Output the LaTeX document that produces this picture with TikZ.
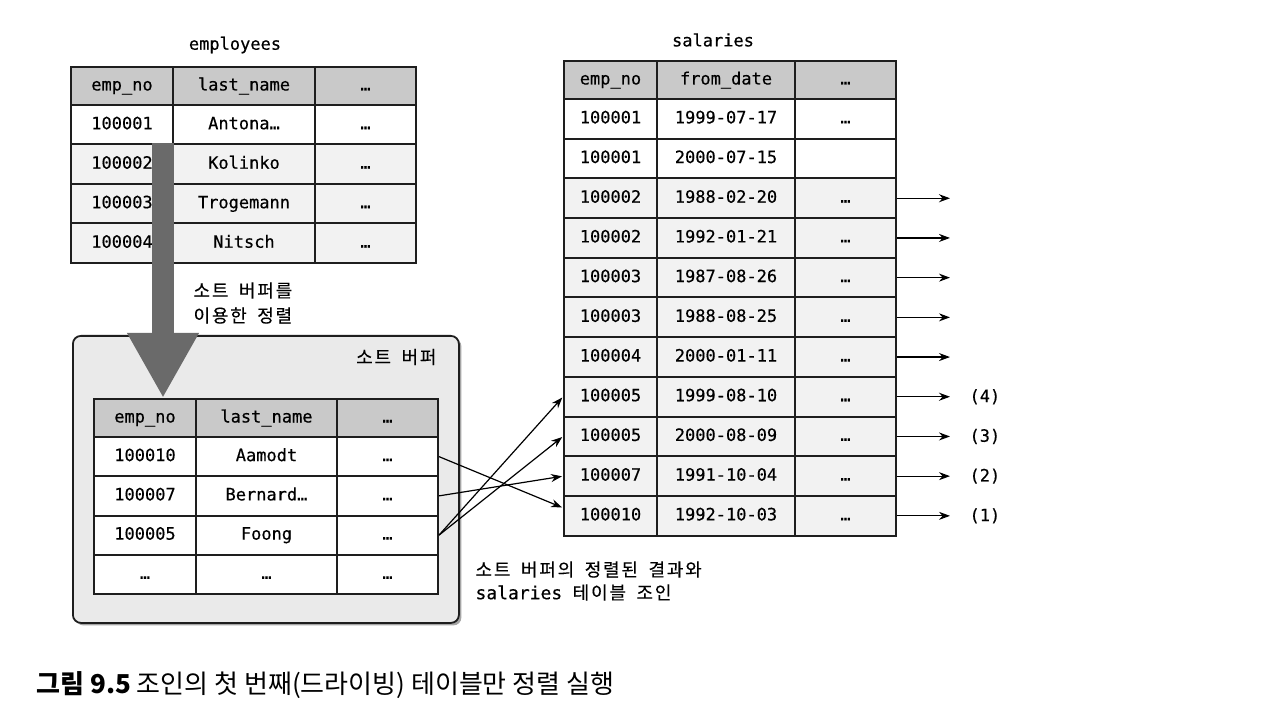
\documentclass[tikz,border=0pt]{standalone}
\usepackage{fontspec}
\setmonofont{DejaVu Sans Mono}[FakeBold=0.4]
\newfontfamily\krfont{Noto Sans CJK KR}[LetterSpace=10, WordSpace=1.8, FakeBold=0.3]
\newfontfamily\capfont{Noto Sans CJK KR}
\usepackage{xcolor}
\definecolor{gridline}{HTML}{1E1E1E}
\definecolor{headbg}{HTML}{C9C9C9}
\definecolor{rowbg}{HTML}{F2F2F2}
\definecolor{bufbg}{HTML}{EAEAEA}
\definecolor{arrowgray}{HTML}{6A6A6A}
\usetikzlibrary{arrows.meta, positioning, calc, shadows}

\begin{document}
\begin{tikzpicture}[
        x=1pt, y=-1pt,
        cell/.style={
            rectangle,
            draw=gridline,
            line width=2pt,
            anchor=north west,
            inner sep=0pt,
            minimum height=39.5pt,
            text height=12.5pt,
            text depth=3.5pt,
            font=\ttfamily\fontsize{17}{17}\selectfont
        },
        headcell/.style={
            cell,
            fill=headbg,
            minimum height=38pt
        },
        tabtitle/.style={
            font=\ttfamily\fontsize{17}{17}\selectfont
        },
        krlabel/.style={
            font=\krfont\fontsize{18}{25}\selectfont,
            align=left
        },
        bufbox/.style={
            rectangle,
            rounded corners=8pt,
            draw=gridline,
            line width=1.8pt,
            fill=bufbg,
            anchor=north west,
            drop shadow={shadow xshift=2.5pt, shadow yshift=-2.5pt, fill=black!70}
        },
        sortarrow/.style={
            draw=arrowgray,
            line width=22pt,
            -{Triangle[width=67pt, length=65pt]}
        },
        joinarrow/.style={
            -{Stealth[length=11pt, width=8pt]},
            line width=1.2pt,
            shorten >=1pt
        },
        outarrow/.style={
            -{Stealth[length=11pt, width=8pt]},
            line width=1.2pt
        }
    ]

    \useasboundingbox[fill=white] (0,0) rectangle (1280,727);

    % employees table (top left)
    \node[tabtitle] (emp-title) at (235,45) {employees};
    \foreach \col/\x/\w/\txt in {a/70/102pt/emp\_no, b/172/142pt/last\_name, c/314/101pt/…}
        \node[headcell, minimum width=\w] (emp-h-\col) at (\x,66) {\txt};
    \foreach \no/\nm/\bg [count=\i] in {100001/Antona…/white, 100002/Kolinko/rowbg,
            100003/Trogemann/rowbg, 100004/Nitsch/rowbg} {
        \node[cell, fill=\bg, minimum width=102pt] (emp-\i-a) at (70,{104+39.5*(\i-1)}) {\no};
        \node[cell, fill=\bg, minimum width=142pt] (emp-\i-b) at (172,{104+39.5*(\i-1)}) {\nm};
        \node[cell, fill=\bg, minimum width=101pt] (emp-\i-c) at (314,{104+39.5*(\i-1)}) {…};
    }

    % Sort buffer box
    \node[bufbox, minimum width=386pt, minimum height=287pt] (buf) at (72,335) {};
    \node[krlabel, anchor=east] (buf-title) at (440,357) {소트 버퍼};

    % sorted table inside the buffer
    \foreach \col/\x/\w/\txt in {a/93/102pt/emp\_no, b/195/141pt/last\_name, c/336/101pt/…}
        \node[headcell, minimum width=\w] (buf-h-\col) at (\x,398) {\txt};
    \foreach \no/\nm [count=\i] in {100010/Aamodt, 100007/Bernard…, 100005/Foong, …/…} {
        \node[cell, fill=white, minimum width=102pt, minimum height=39.25pt] (buf-\i-a) at (93,{436+39.25*(\i-1)}) {\no};
        \node[cell, fill=white, minimum width=141pt, minimum height=39.25pt] (buf-\i-b) at (195,{436+39.25*(\i-1)}) {\nm};
        \node[cell, fill=white, minimum width=101pt, minimum height=39.25pt] (buf-\i-c) at (336,{436+39.25*(\i-1)}) {…};
    }

    % Big grey arrow: sorting with the sort buffer
    \coordinate (sort-start) at ($(emp-2-a.north east)+(-11,0)$);
    \draw[sortarrow] (sort-start) -- (sort-start |- buf-h-a.north);
    \node[krlabel, anchor=west] (sort-label) at (190,303) {소트 버퍼를\\이용한 정렬};

    % salaries table (right)
    \node[tabtitle] (sal-title) at (713,40) {salaries};
    \foreach \col/\x/\w/\txt in {a/563/93pt/emp\_no, b/656/138pt/from\_date, c/794/101pt/…}
        \node[headcell, minimum width=\w] (sal-h-\col) at (\x,60) {\txt};
    \foreach \no/\dt/\rest/\bg [count=\i] in {100001/1999-07-17/…/white, 100001/2000-07-15//white,
            100002/1988-02-20/…/rowbg, 100002/1992-01-21/…/rowbg, 100003/1987-08-26/…/rowbg,
            100003/1988-08-25/…/rowbg, 100004/2000-01-11/…/rowbg, 100005/1999-08-10/…/rowbg,
            100005/2000-08-09/…/rowbg, 100007/1991-10-04/…/rowbg, 100010/1992-10-03/…/rowbg} {
        \node[cell, fill=\bg, minimum width=93pt, minimum height=39.7pt] (sal-\i-a) at (563,{98+39.7*(\i-1)}) {\no};
        \node[cell, fill=\bg, minimum width=138pt, minimum height=39.7pt] (sal-\i-b) at (656,{98+39.7*(\i-1)}) {\dt};
        \node[cell, fill=\bg, minimum width=101pt, minimum height=39.7pt] (sal-\i-c) at (794,{98+39.7*(\i-1)}) {\rest};
    }

    % Output arrows of the joined rows
    \foreach \i in {3,...,11}
        \draw[outarrow] (sal-\i-c.east) -- ++(53,0) coordinate (out-\i);
    \foreach \i/\ord in {8/(4), 9/(3), 10/(2), 11/(1)}
        \node[tabtitle, anchor=west] (ord-\i) at ($(out-\i)+(16,0)$) {\ord};

    % Join of the sorted buffer rows with salaries
    \draw[joinarrow] (buf-1-c.east) -- ($(sal-11-a.west)+(0,-8)$);
    \draw[joinarrow] (buf-2-c.east) -- (sal-10-a.west);
    \draw[joinarrow] (buf-3-c.east) -- (sal-9-a.west);
    \draw[joinarrow] (buf-3-c.east) -- (sal-8-a.west);
    \node[krlabel, anchor=west, font=\krfont\fontsize{18}{23}\selectfont] (join-label) at (472,581)
        {소트 버퍼의 정렬된 결과와\\{\ttfamily salaries} 테이블 조인};

    % Caption
    \node[anchor=west, font=\capfont\fontsize{26}{26}\selectfont] (caption) at (33,685)
        {\textbf{그림 9.5} 조인의 첫 번째(드라이빙) 테이블만 정렬 실행};

\end{tikzpicture}
\end{document}
